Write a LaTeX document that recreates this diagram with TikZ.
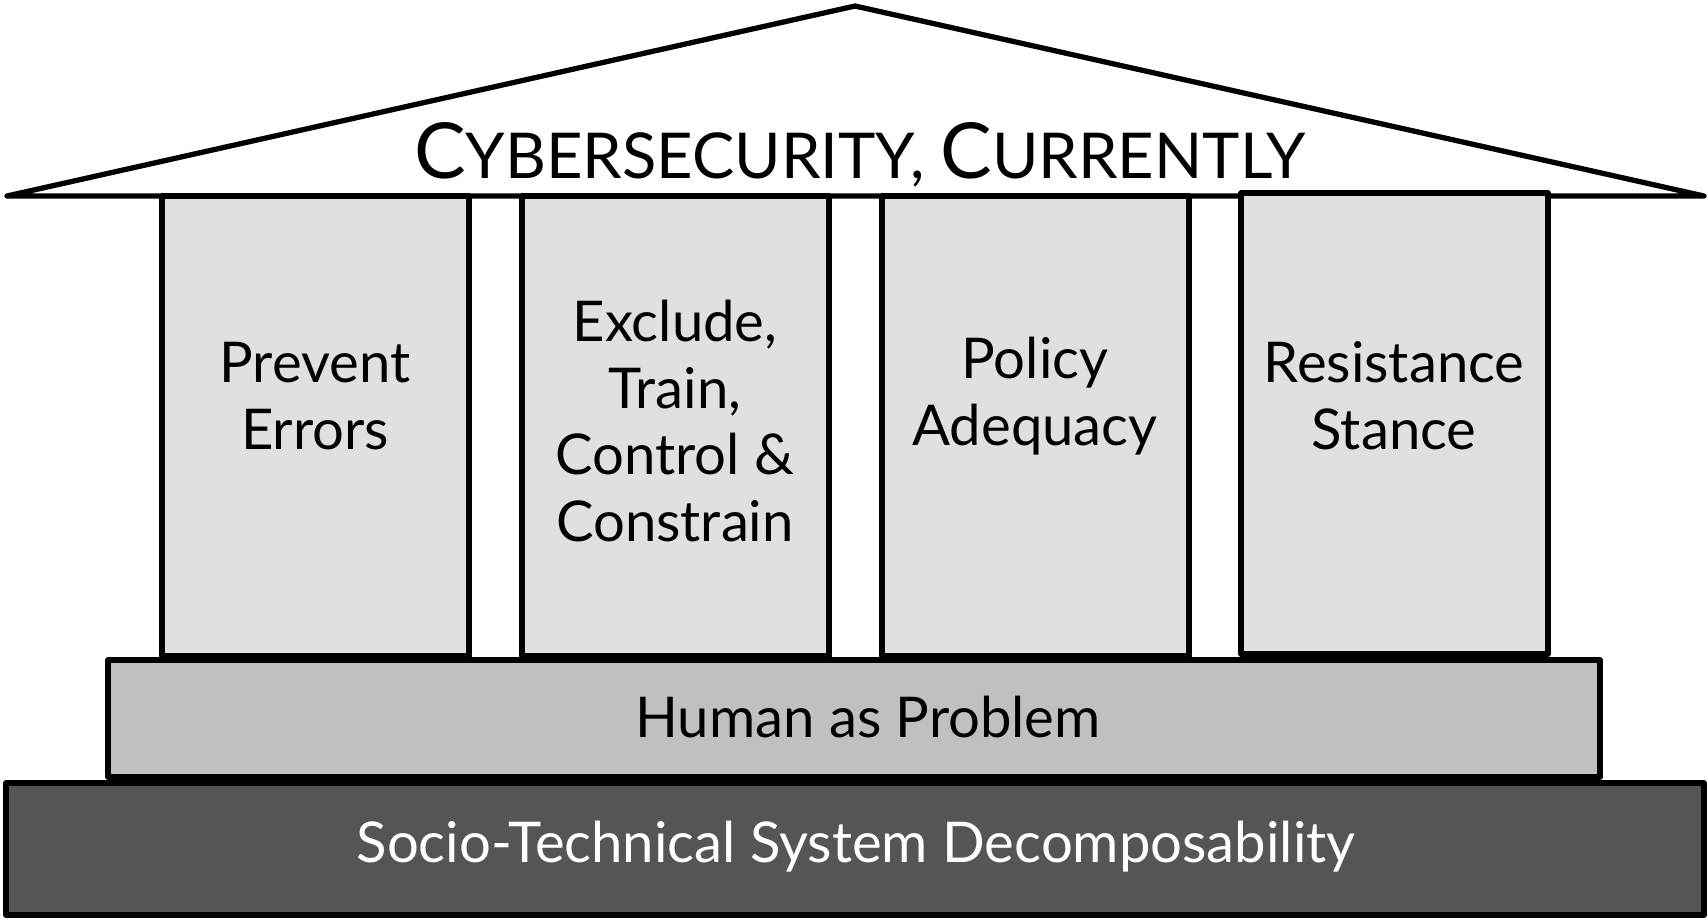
\documentclass[tikz,border=0pt]{standalone}
\usepackage{fontspec}
\setmainfont{Lato}
\usepackage{xcolor}
\usetikzlibrary{positioning}

\definecolor{pillargray}{HTML}{E0E0E0}
\definecolor{basegray}{HTML}{C0C0C0}
\definecolor{footgray}{HTML}{555555}

\begin{document}
\begin{tikzpicture}[
    x=0.02cm, y=-0.02cm,
    outline/.style={draw=black, line width=3pt, line join=round},
    pillar/.style={outline, fill=pillargray},
    pillartext/.style={font=\fontsize{32}{38}\selectfont, align=center},
    bandtext/.style={font=\fontsize{32}{38}\selectfont}
]
    \useasboundingbox (0,0) rectangle (1708,921);

    \def\pa{162}  % Prevent Errors
    \def\pb{522}  % Exclude, Train...
    \def\pc{882}  % Policy Adequacy
    \def\pd{1241} % Resistance Stance
    \def\pw{307}  % ancho de columna

    % techo
    \draw[outline, fill=white] (7,196) -- (855,6) -- (1704,196) -- cycle;
    \node[anchor=base, font=\fontsize{36}{36}\selectfont] (title) at (860,178)
        {{\fontsize{44}{44}\selectfont C}YBERSECURITY, {\fontsize{44}{44}\selectfont C}URRENTLY};

    % columnas
    \draw[pillar] (\pa,196) rectangle ++(\pw,460);
    \draw[pillar] (\pb,196) rectangle ++(\pw,460);
    \draw[pillar] (\pc,196) rectangle ++(\pw,460);
    \draw[pillar] (\pd,193) rectangle ++(\pw,461);

    \node[pillartext] (errors) at (\pa+153,396) {Prevent\\Errors};
    \node[pillartext] (exclude) at (\pb+153,421) {Exclude,\\Train,\\Control \&\\Constrain};
    \node[pillartext] (policy) at (\pc+153,396) {Policy\\Adequacy};
    \node[pillartext] (stance) at (\pd+153,396) {Resistance\\Stance};

    % bases
    \draw[outline, fill=basegray] (108,660) rectangle (1600,777);
    \node[bandtext] (human) at (868,717) {Human as Problem};

    \draw[outline, fill=footgray] (6,783) rectangle (1704,915);
    \node[bandtext, text=white] (socio) at (856,847) {Socio-Technical System Decomposability};
\end{tikzpicture}
\end{document}
